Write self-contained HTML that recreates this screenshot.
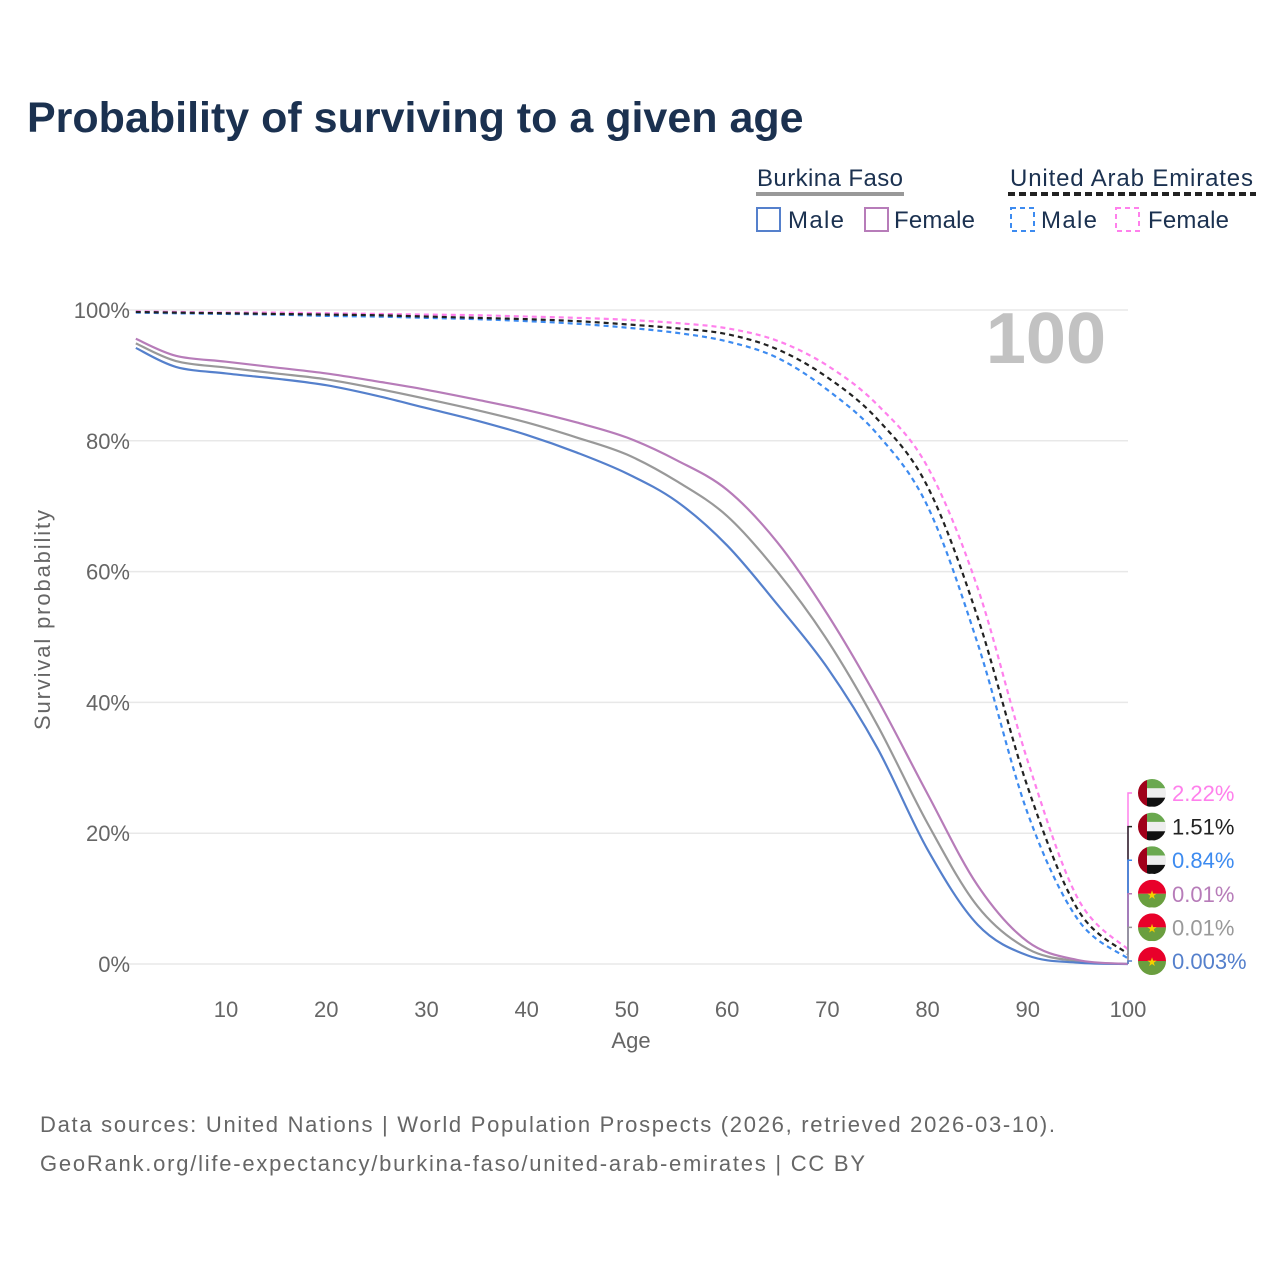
<!DOCTYPE html>
<html><head><meta charset="utf-8"><style>
body{margin:0;background:#fff;}
svg text{font-family:"Liberation Sans",sans-serif;}
</style></head><body>
<svg width="1280" height="1280" viewBox="0 0 1280 1280" xmlns="http://www.w3.org/2000/svg" id="chart">
<text x="27" y="132" font-size="43" font-weight="bold" fill="#1b3150">Probability of surviving to a given age</text>
<g>
<text x="757" y="186" font-size="24" fill="#1b3150" textLength="146">Burkina Faso</text>
<line x1="756" y1="194" x2="904" y2="194" stroke="#999" stroke-width="4"/>
<rect x="757" y="208" width="23" height="23" fill="none" stroke="#5580cc" stroke-width="2"/>
<text x="788" y="228" font-size="24" fill="#1b3150" textLength="56">Male</text>
<rect x="865" y="208" width="23" height="23" fill="none" stroke="#b77cb9" stroke-width="2"/>
<text x="894" y="228" font-size="24" fill="#1b3150" textLength="81">Female</text>
<text x="1010" y="186" font-size="24" fill="#1b3150" textLength="243">United Arab Emirates</text>
<line x1="1008" y1="194" x2="1256" y2="194" stroke="#222" stroke-width="4" stroke-dasharray="7,4"/>
<rect x="1011" y="208" width="23" height="23" fill="none" stroke="#3d8bf0" stroke-width="2" stroke-dasharray="5,4"/>
<text x="1041" y="228" font-size="24" fill="#1b3150" textLength="56">Male</text>
<rect x="1116" y="208" width="23" height="23" fill="none" stroke="#ff80ec" stroke-width="2" stroke-dasharray="5,4"/>
<text x="1148" y="228" font-size="24" fill="#1b3150" textLength="81">Female</text>
</g>
<g id="grid"></g>
<g id="yticks"></g>
<g id="xticks"></g>
<text x="50" y="620" font-size="22" fill="#666" text-anchor="middle" textLength="220" transform="rotate(-90 50 620)">Survival probability</text>
<text x="631" y="1048" font-size="22" fill="#666" text-anchor="middle">Age</text>
<text x="1106" y="363" font-size="72" font-weight="bold" fill="#c2c2c2" text-anchor="end">100</text>
<g id="series"></g>
<g id="endlabels"></g>
<text x="40" y="1132" font-size="22" fill="#666" textLength="1015">Data sources: United Nations | World Population Prospects (2026, retrieved 2026-03-10).</text>
<text x="40" y="1171" font-size="22" fill="#666" textLength="825">GeoRank.org/life-expectancy/burkina-faso/united-arab-emirates | CC BY</text>
</svg>
<script>
const ages = [1,5,10,15,20,25,30,35,40,45,50,55,60,65,70,75,80,85,90,95,100];
const bfMale   = [94.2,91.3,90.3,89.5,88.5,86.9,85,83.1,80.9,78.2,75,70.7,64,55,45.3,33,17.5,6,1.3,0.2,0.003];
const bfTotal  = [94.9,92.2,91.2,90.3,89.4,88,86.4,84.7,82.8,80.5,77.9,73.8,68.5,60,49.5,36.5,21.5,8.8,2.3,0.4,0.01];
const bfFemale = [95.6,93,92.1,91.2,90.3,89.1,87.8,86.3,84.7,82.8,80.5,77,72.5,64.5,53.5,40.5,26,12,3.4,0.6,0.01];
const uaeMale   = [99.6,99.5,99.4,99.3,99.1,99,98.8,98.6,98.3,97.9,97.3,96.5,95.2,92.7,87.8,81,70,49,23,6.8,0.84];
const uaeTotal  = [99.7,99.6,99.5,99.4,99.3,99.2,99,98.8,98.6,98.3,97.8,97.2,96.3,94,89.7,83.3,73,53,27,8.3,1.51];
const uaeFemale = [99.8,99.7,99.6,99.6,99.5,99.4,99.3,99.2,99,98.8,98.5,98,97.2,95.3,91.5,85.5,76,57.5,31,10,2.22];
const yTicks = [0,20,40,60,80,100];
const xTicks = [10,20,30,40,50,60,70,80,90,100];
const endLabels = ["2.22%","1.51%","0.84%","0.01%","0.01%","0.003%"];

const X = a => 125.8 + (a) * 10.022;
const Y = v => 964 - v * 6.54;
const NS = "http://www.w3.org/2000/svg";
function mk(tag, attrs, parent){const e=document.createElementNS(NS,tag);for(const k in attrs)e.setAttribute(k,attrs[k]);parent.appendChild(e);return e;}
const grid=document.getElementById('grid'), yt=document.getElementById('yticks'), xt=document.getElementById('xticks');
yTicks.forEach(v=>{
  const l=mk('line',{x1:126,x2:1128,y1:Y(v),y2:Y(v),stroke:'#e8e8e8','stroke-width':1.5},grid);
  
  
  const t=mk('text',{x:130,y:Y(v)+8,'font-size':22,fill:'#666','text-anchor':'end'},yt);
  t.textContent=v+'%';
  
  
});
xTicks.forEach(a=>{
  const t=mk('text',{x:X(a),y:1017,'font-size':22,fill:'#666','text-anchor':'middle'},xt);
  t.textContent=a;
  
  
});
function pathFor(vals){
  const p=ages.map((a,i)=>[X(a),Y(vals[i])]);
  let d='M'+p[0][0]+','+p[0][1];
  for(let i=0;i<p.length-1;i++){
    const p0=p[i-1]||p[i],p1=p[i],p2=p[i+1],p3=p[i+2]||p2;
    const c1=[p1[0]+(p2[0]-p0[0])/6,p1[1]+(p2[1]-p0[1])/6];
    const c2=[p2[0]-(p3[0]-p1[0])/6,p2[1]-(p3[1]-p1[1])/6];
    d+=`C${c1[0]},${c1[1]} ${c2[0]},${c2[1]} ${p2[0]},${p2[1]}`;
  }
  return d;
}
const sg=document.getElementById('series');
const defs=[
 [bfTotal,'#999','',  'line-bf-total'],
 [bfMale,'#5580cc','','line-bf-male'],
 [bfFemale,'#b77cb9','','line-bf-female'],
 [uaeFemale,'#ff80ec','5,4','line-uae-female'],
 [uaeMale,'#3d8bf0','5,4','line-uae-male'],
 [uaeTotal,'#222','5,4','line-uae-total']];
defs.forEach(s=>{
  const e=mk('path',{d:pathFor(s[0]),fill:'none',stroke:s[1],'stroke-width':2.2,'stroke-dasharray':s[2]},sg);
  
  
});
const eg=document.getElementById('endlabels');
const endVals=[uaeFemale,uaeTotal,uaeMale,bfFemale,bfTotal,bfMale];
const endCols=['#ff80ec','#222','#3d8bf0','#b77cb9','#999','#5580cc'];
endLabels.forEach((lab,i)=>{
  const ly=793+i*33.6, vy=Y(endVals[i][endVals[i].length-1]);
  mk('path',{d:`M1128,${vy} L1128,${ly} L1138,${ly}`,fill:'none',stroke:endCols[i],'stroke-width':1.5},eg);
  const g=mk('g',{},eg);
  
  
  const cx=1152, r=14;
  if(i<3){
    mk('rect',{x:cx-r,y:ly-r,width:2*r,height:2*r/3,fill:'#6aa84f'},g);
    mk('rect',{x:cx-r,y:ly-r+2*r/3,width:2*r,height:2*r/3,fill:'#eee'},g);
    mk('rect',{x:cx-r,y:ly-r+4*r/3,width:2*r,height:2*r/3,fill:'#111'},g);
    mk('rect',{x:cx-r,y:ly-r,width:9,height:2*r,fill:'#a0001a'},g);
  } else {
    mk('rect',{x:cx-r,y:ly-r,width:2*r,height:r,fill:'#e8002a'},g);
    mk('rect',{x:cx-r,y:ly,width:2*r,height:r,fill:'#6a9e3f'},g);
    const st=mk('text',{x:cx,y:ly+5,'font-size':12,fill:'#f5d000','text-anchor':'middle'},g);
    st.textContent='★';
  }
  mk('circle',{cx:cx,cy:ly,r:r+3,fill:'none',stroke:'#fff','stroke-width':6},g);
  const t=mk('text',{x:1172,y:ly+8,'font-size':22,fill:endCols[i]},eg);
  t.textContent=lab;
  
  
});
</script>
</body></html>
